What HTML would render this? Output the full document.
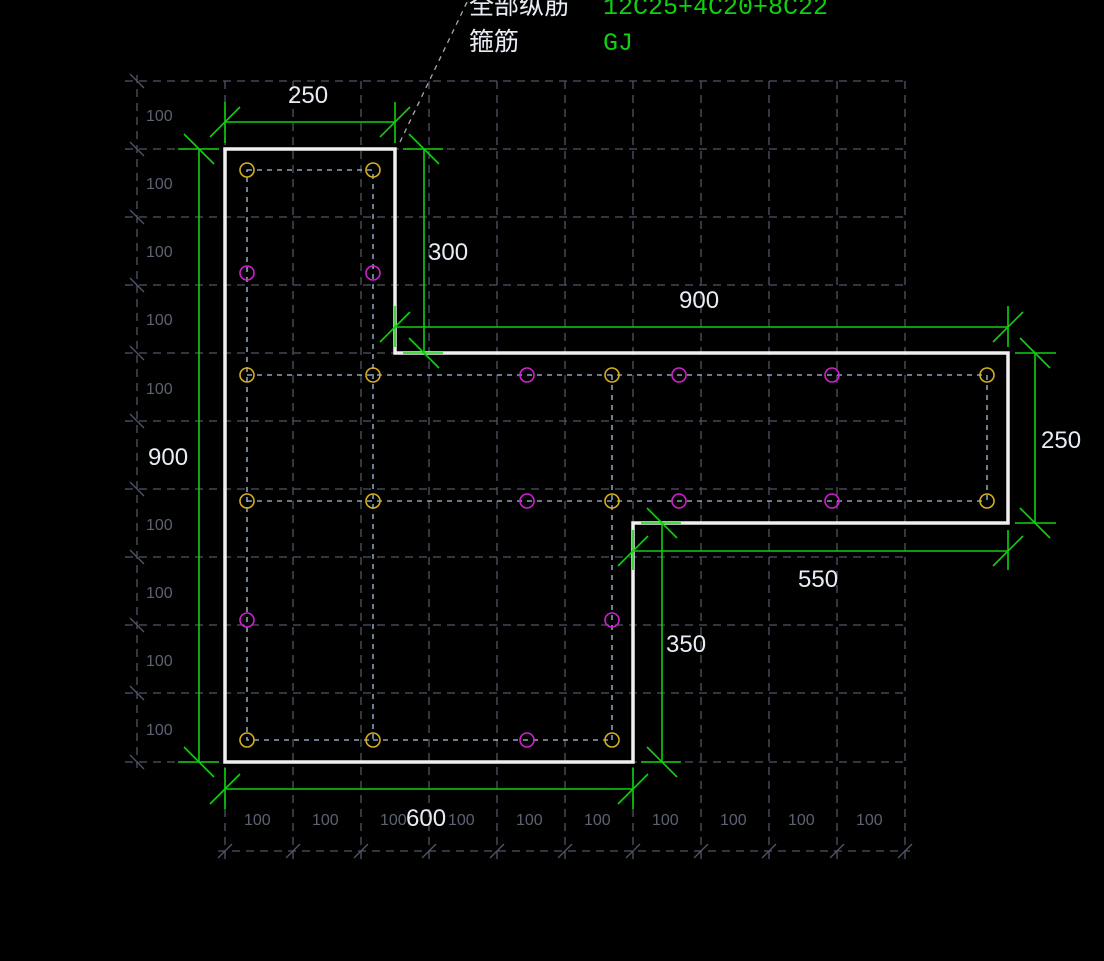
<!DOCTYPE html>
<html><head><meta charset="utf-8"><style>
html,body{margin:0;padding:0;background:#000;width:1104px;height:961px;overflow:hidden}
svg{display:block}
</style></head><body>
<svg width="1104" height="961" viewBox="0 0 1104 961" xmlns="http://www.w3.org/2000/svg">
<rect width="1104" height="961" fill="#000"/>
<g stroke="#4f5566" stroke-width="1.3" stroke-dasharray="8,6" fill="none">
  <line x1="125" y1="81" x2="905" y2="81"/>
  <line x1="125" y1="149" x2="905" y2="149"/>
  <line x1="125" y1="217" x2="905" y2="217"/>
  <line x1="125" y1="285" x2="905" y2="285"/>
  <line x1="125" y1="353" x2="905" y2="353"/>
  <line x1="125" y1="421" x2="905" y2="421"/>
  <line x1="125" y1="489" x2="905" y2="489"/>
  <line x1="125" y1="557" x2="905" y2="557"/>
  <line x1="125" y1="625" x2="905" y2="625"/>
  <line x1="125" y1="693" x2="905" y2="693"/>
  <line x1="125" y1="762" x2="905" y2="762"/>
  <line x1="218" y1="851" x2="910" y2="851"/>
  <line x1="137" y1="75" x2="137" y2="768"/>
  <line x1="225" y1="81" x2="225" y2="862"/>
  <line x1="293" y1="81" x2="293" y2="862"/>
  <line x1="361" y1="81" x2="361" y2="862"/>
  <line x1="429" y1="81" x2="429" y2="862"/>
  <line x1="497" y1="81" x2="497" y2="862"/>
  <line x1="565" y1="81" x2="565" y2="862"/>
  <line x1="633" y1="81" x2="633" y2="862"/>
  <line x1="701" y1="81" x2="701" y2="862"/>
  <line x1="769" y1="81" x2="769" y2="862"/>
  <line x1="837" y1="81" x2="837" y2="862"/>
  <line x1="905" y1="81" x2="905" y2="862"/>
</g>
<g stroke="#4f5566" stroke-width="1.3">
  <line x1="130" y1="74" x2="144" y2="88"/><line x1="130" y1="142" x2="144" y2="156"/>
  <line x1="130" y1="210" x2="144" y2="224"/><line x1="130" y1="278" x2="144" y2="292"/>
  <line x1="130" y1="346" x2="144" y2="360"/><line x1="130" y1="414" x2="144" y2="428"/>
  <line x1="130" y1="482" x2="144" y2="496"/><line x1="130" y1="550" x2="144" y2="564"/>
  <line x1="130" y1="618" x2="144" y2="632"/><line x1="130" y1="686" x2="144" y2="700"/>
  <line x1="130" y1="755" x2="144" y2="769"/>
  <line x1="218" y1="858" x2="232" y2="844"/><line x1="286" y1="858" x2="300" y2="844"/>
  <line x1="354" y1="858" x2="368" y2="844"/><line x1="422" y1="858" x2="436" y2="844"/>
  <line x1="490" y1="858" x2="504" y2="844"/><line x1="558" y1="858" x2="572" y2="844"/>
  <line x1="626" y1="858" x2="640" y2="844"/><line x1="694" y1="858" x2="708" y2="844"/>
  <line x1="762" y1="858" x2="776" y2="844"/><line x1="830" y1="858" x2="844" y2="844"/>
  <line x1="898" y1="858" x2="912" y2="844"/>
</g>
<g fill="#5c6272" font-family="Liberation Sans, sans-serif" font-size="16">
  <text x="146" y="121">100</text><text x="146" y="189">100</text><text x="146" y="257">100</text>
  <text x="146" y="325">100</text><text x="146" y="394">100</text><text x="146" y="530">100</text>
  <text x="146" y="598">100</text><text x="146" y="666">100</text><text x="146" y="735">100</text>
  <text x="244" y="825">100</text><text x="312" y="825">100</text><text x="380" y="825">100</text>
  <text x="448" y="825">100</text><text x="516" y="825">100</text><text x="584" y="825">100</text>
  <text x="652" y="825">100</text><text x="720" y="825">100</text><text x="788" y="825">100</text>
  <text x="856" y="825">100</text>
</g>
<line x1="400" y1="142" x2="468" y2="0" stroke="#aaa" stroke-width="1.3" stroke-dasharray="5,5"/>
<g stroke="#a9c4e0" stroke-width="1.3" stroke-dasharray="5,5" fill="none">
  <rect x="247" y="170" width="126" height="570"/>
  <line x1="247" y1="375" x2="987" y2="375"/>
  <line x1="247" y1="501" x2="987" y2="501"/>
  <line x1="987" y1="375" x2="987" y2="501"/>
  <line x1="612" y1="375" x2="612" y2="740"/>
  <line x1="373" y1="740" x2="612" y2="740"/>
</g>
<path d="M225 149 H395 V353 H1008 V523 H633 V762 H225 Z" fill="none" stroke="#f0f0f0" stroke-width="3.5"/>
<g fill="none" stroke-width="1.6">
  <g stroke="#d4b020">
    <circle cx="247" cy="170" r="7"/><circle cx="373" cy="170" r="7"/>
    <circle cx="247" cy="375" r="7"/><circle cx="373" cy="375" r="7"/>
    <circle cx="612" cy="375" r="7"/><circle cx="987" cy="375" r="7"/>
    <circle cx="247" cy="501" r="7"/><circle cx="373" cy="501" r="7"/>
    <circle cx="612" cy="501" r="7"/><circle cx="987" cy="501" r="7"/>
    <circle cx="247" cy="740" r="7"/><circle cx="373" cy="740" r="7"/>
    <circle cx="612" cy="740" r="7"/>
  </g>
  <g stroke="#d020d0">
    <circle cx="247" cy="273" r="7"/><circle cx="373" cy="273" r="7"/>
    <circle cx="527" cy="375" r="7"/><circle cx="679" cy="375" r="7"/><circle cx="832" cy="375" r="7"/>
    <circle cx="527" cy="501" r="7"/><circle cx="679" cy="501" r="7"/><circle cx="832" cy="501" r="7"/>
    <circle cx="247" cy="620" r="7"/><circle cx="612" cy="620" r="7"/>
    <circle cx="527" cy="740" r="7"/>
  </g>
</g>
<g stroke="#10d010" stroke-width="1.6" fill="none">
  <line x1="225" y1="122" x2="395" y2="122"/>
  <line x1="225" y1="102" x2="225" y2="143"/><line x1="395" y1="102" x2="395" y2="143"/>
  <line x1="210" y1="137" x2="240" y2="107"/><line x1="380" y1="137" x2="410" y2="107"/>
  <line x1="199" y1="149" x2="199" y2="762"/>
  <line x1="178" y1="149" x2="219" y2="149"/><line x1="178" y1="762" x2="219" y2="762"/>
  <line x1="184" y1="134" x2="214" y2="164"/><line x1="184" y1="747" x2="214" y2="777"/>
  <line x1="424" y1="149" x2="424" y2="353"/>
  <line x1="403" y1="149" x2="443" y2="149"/><line x1="403" y1="353" x2="443" y2="353"/>
  <line x1="409" y1="134" x2="439" y2="164"/><line x1="409" y1="338" x2="439" y2="368"/>
  <line x1="395" y1="327" x2="1008" y2="327"/>
  <line x1="395" y1="306" x2="395" y2="347"/><line x1="1008" y1="306" x2="1008" y2="347"/>
  <line x1="380" y1="342" x2="410" y2="312"/><line x1="993" y1="342" x2="1023" y2="312"/>
  <line x1="1035" y1="353" x2="1035" y2="523"/>
  <line x1="1015" y1="353" x2="1056" y2="353"/><line x1="1015" y1="523" x2="1056" y2="523"/>
  <line x1="1020" y1="338" x2="1050" y2="368"/><line x1="1020" y1="508" x2="1050" y2="538"/>
  <line x1="633" y1="551" x2="1008" y2="551"/>
  <line x1="633" y1="530" x2="633" y2="570"/><line x1="1008" y1="530" x2="1008" y2="570"/>
  <line x1="618" y1="566" x2="648" y2="536"/><line x1="993" y1="566" x2="1023" y2="536"/>
  <line x1="662" y1="523" x2="662" y2="762"/>
  <line x1="641" y1="523" x2="681" y2="523"/><line x1="641" y1="762" x2="681" y2="762"/>
  <line x1="647" y1="508" x2="677" y2="538"/><line x1="647" y1="747" x2="677" y2="777"/>
  <line x1="225" y1="789" x2="633" y2="789"/>
  <line x1="225" y1="768" x2="225" y2="809"/><line x1="633" y1="768" x2="633" y2="809"/>
  <line x1="210" y1="804" x2="240" y2="774"/><line x1="618" y1="804" x2="648" y2="774"/>
</g>
<g fill="#e8ecf4" font-family="Liberation Sans, sans-serif" font-size="24">
  <text x="288" y="103">250</text>
  <text x="148" y="465">900</text>
  <text x="428" y="260">300</text>
  <text x="679" y="308">900</text>
  <text x="1041" y="448">250</text>
  <text x="798" y="587">550</text>
  <text x="666" y="652">350</text>
  <text x="406" y="826">600</text>
</g>
<g font-size="25">
  <text x="469" y="14" fill="#e8ecf4" font-family="Liberation Sans, 'Noto Sans CJK SC', sans-serif">全部纵筋</text>
  <text x="469" y="50" fill="#e8ecf4" font-family="Liberation Sans, 'Noto Sans CJK SC', sans-serif">箍筋</text>
  <text x="603" y="14" fill="#10d010" font-family="Liberation Mono, monospace">12C25+4C20+8C22</text>
  <text x="603" y="50" fill="#10d010" font-family="Liberation Mono, monospace">GJ</text>
</g>
</svg>
</body></html>
